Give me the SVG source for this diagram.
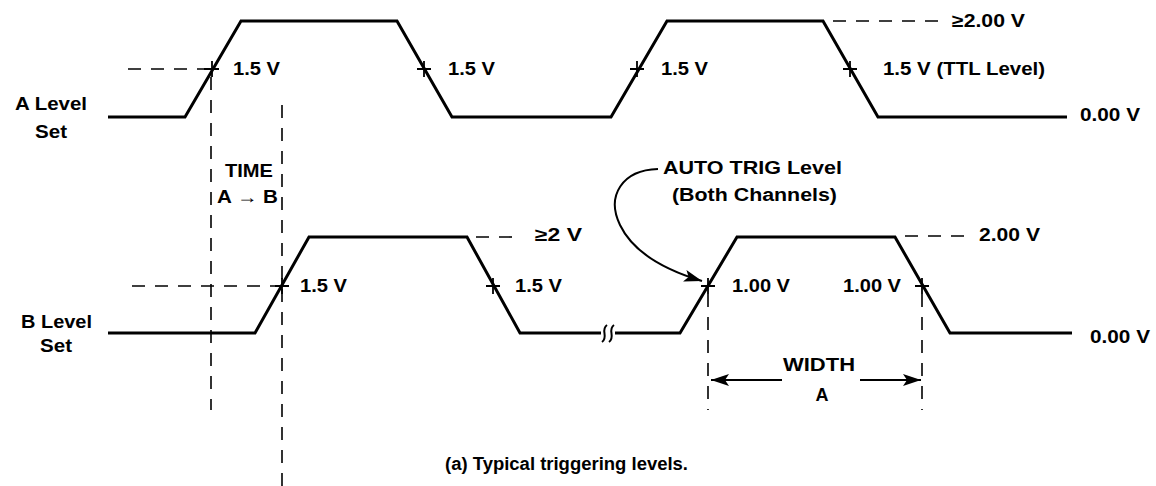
<svg xmlns="http://www.w3.org/2000/svg" width="1156" height="486" viewBox="0 0 1156 486">
<defs>
<style>
.w{fill:none;stroke:#000;stroke-width:3;stroke-linejoin:miter;stroke-linecap:butt}
.d{fill:none;stroke:#000;stroke-width:1.6;stroke-dasharray:13 10}
.x{fill:none;stroke:#000;stroke-width:1.8}
.a{fill:none;stroke:#000;stroke-width:2}
text{font-family:"Liberation Sans",Arial,sans-serif;font-weight:bold;font-size:18px;fill:#000}
</style>
<marker id="ah" viewBox="0 0 18 12" refX="18" refY="6" markerWidth="18" markerHeight="12" markerUnits="userSpaceOnUse" orient="auto">
<path d="M0,0 L18,6 L0,12 L4,6 Z" fill="#000"/>
</marker>
</defs>
<rect width="1156" height="486" fill="#fff"/>
<g id="connectors">
<path class="w" d="M108,117 L185,117 L241,21 L397,21 L452,117 L611,117 L667,21 L823,21 L878,117 L1067,117"/>
<path class="w" d="M108,333 L255,333 L309,237 L467,237 L520,333 L601,333"/>
<path class="w" d="M615,333 L680,333 L737,237 L895,237 L950,333 L1072,333"/>
<path class="a" d="M607,325 C600,330 609,337 602,342 M614,325 C607,330 616,337 609,342"/>
<path class="d" d="M128,69 L205,69"/>
<path class="d" d="M833,21 L942,21"/>
<path class="d" d="M132,286 L276,286"/>
<path class="d" d="M476,237 L522,237"/>
<path class="d" d="M905,236 L970,236"/>
<path class="d" d="M211,77 L211,410"/>
<path class="d" d="M282,105 L282,486"/>
<path class="d" d="M708,294 L708,410"/>
<path class="d" d="M922,294 L922,410"/>
<path class="x" d="M204,69 L219,69 M212,61 L212,77"/>
<path class="x" d="M417,69 L431,69 M424,61 L424,77"/>
<path class="x" d="M630,69 L644,69 M637,61 L637,77"/>
<path class="x" d="M843,69 L857,69 M850,61 L850,77"/>
<path class="x" d="M275,286 L289,286 M282,278 L282,294"/>
<path class="x" d="M486,286 L500,286 M493,278 L493,294"/>
<path class="x" d="M701,286 L715,286 M708,278 L708,294"/>
<path class="x" d="M915,286 L929,286 M922,278 L922,294"/>
<path class="a" d="M782,380 L711,380" marker-end="url(#ah)"/>
<path class="a" d="M860,380 L921,380" marker-end="url(#ah)"/>
<path class="a" d="M658,169 C622,170 606,196 620,225 C633,252 665,270 702,281" marker-end="url(#ah)"/>
</g>
<g id="labels">
<text x="15" y="110" textLength="72" lengthAdjust="spacingAndGlyphs">A Level</text>
<text x="35" y="138" textLength="32" lengthAdjust="spacingAndGlyphs">Set</text>
<text x="21" y="328" textLength="71" lengthAdjust="spacingAndGlyphs">B Level</text>
<text x="40" y="352" textLength="32" lengthAdjust="spacingAndGlyphs">Set</text>
<text x="233" y="75" textLength="47" lengthAdjust="spacingAndGlyphs">1.5 V</text>
<text x="448" y="75" textLength="47" lengthAdjust="spacingAndGlyphs">1.5 V</text>
<text x="661" y="75" textLength="47" lengthAdjust="spacingAndGlyphs">1.5 V</text>
<text x="883" y="75" textLength="162" lengthAdjust="spacingAndGlyphs">1.5 V (TTL Level)</text>
<text x="952" y="27" textLength="73" lengthAdjust="spacingAndGlyphs">≥2.00 V</text>
<text x="1080" y="121" textLength="60" lengthAdjust="spacingAndGlyphs">0.00 V</text>
<text x="225" y="177" textLength="48" lengthAdjust="spacingAndGlyphs">TIME</text>
<text x="217" y="203" textLength="61" lengthAdjust="spacingAndGlyphs">A → B</text>
<text x="663" y="174" textLength="179" lengthAdjust="spacingAndGlyphs">AUTO TRIG Level</text>
<text x="672" y="201" textLength="165" lengthAdjust="spacingAndGlyphs">(Both Channels)</text>
<text x="535" y="241" textLength="47" lengthAdjust="spacingAndGlyphs">≥2 V</text>
<text x="300" y="292" textLength="47" lengthAdjust="spacingAndGlyphs">1.5 V</text>
<text x="515" y="292" textLength="47" lengthAdjust="spacingAndGlyphs">1.5 V</text>
<text x="732" y="292" textLength="58" lengthAdjust="spacingAndGlyphs">1.00 V</text>
<text x="843" y="292" textLength="58" lengthAdjust="spacingAndGlyphs">1.00 V</text>
<text x="979" y="241" textLength="61" lengthAdjust="spacingAndGlyphs">2.00 V</text>
<text x="1090" y="343" textLength="60" lengthAdjust="spacingAndGlyphs">0.00 V</text>
<text x="783" y="371" textLength="72" lengthAdjust="spacingAndGlyphs">WIDTH</text>
<text x="822" y="401" text-anchor="middle">A</text>
<text x="445" y="470" font-size="17" textLength="243" lengthAdjust="spacingAndGlyphs">(a) Typical triggering levels.</text>
</g>
</svg>
